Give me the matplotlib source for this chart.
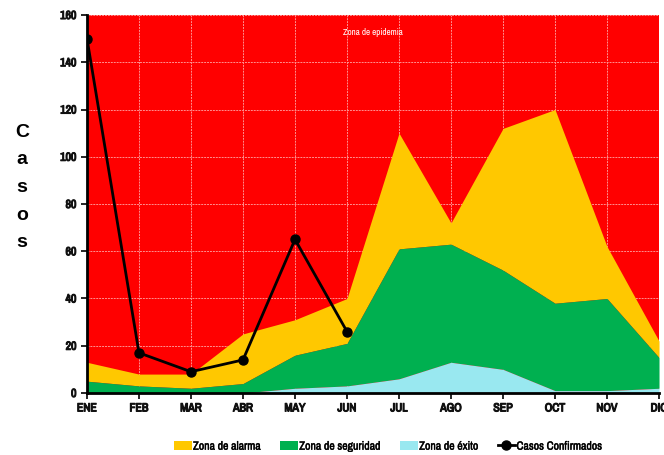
import matplotlib
matplotlib.use("Agg")
import matplotlib.pyplot as plt
import matplotlib.patheffects as pe
from matplotlib import font_manager
import numpy as np

# ------------------- DATA -------------------
meses = ["ENE", "FEB", "MAR", "ABR", "MAY", "JUN", "JUL", "AGO", "SEP", "OCT", "NOV", "DIC"]
# upper limits of each zone (cumulative)
limite_exito = [0, 0, 0, 0, 2, 3, 6, 13, 10, 1, 1, 2]
limite_seguridad = [5, 3, 2, 4, 16, 21, 61, 63, 52, 38, 40, 15]
limite_alarma = [13, 8, 8, 25, 31, 40, 110, 72, 112, 120, 62, 22]
casos_confirmados = [150, 17, 9, 14, 65, 26]

# look for a narrow face, the original uses Arial Narrow
narrow = None
for f in font_manager.fontManager.ttflist:
    if 'Narrow' in f.name or 'Condensed' in f.name:
        narrow = f.name
        break
familia = ([narrow] if narrow else []) + ['Liberation Sans', 'DejaVu Sans']
plt.rcParams['font.family'] = familia

fig = plt.figure(figsize=(6.64, 4.55), dpi=100)
ax = fig.add_axes([0.131, 0.1363, 0.8615, 0.8307])
ax.set_facecolor('#FF0000')

x = np.arange(len(meses))
ax.fill_between(x, limite_seguridad, limite_alarma, color='#FFC800', linewidth=0, label="Zona de alarma", zorder=2)
ax.fill_between(x, limite_exito, limite_seguridad, color='#00B050', linewidth=0, label="Zona de seguridad", zorder=2)
ax.fill_between(x, 0, limite_exito, color='#99E8F0', linewidth=0, label="Zona de éxito", zorder=2)
ax.plot(x[:len(casos_confirmados)], casos_confirmados, color='black', linewidth=2,
        marker='o', markersize=6.5, label="Casos Confirmados", zorder=4)

ax.set_xlim(0, len(meses) - 1)
ax.set_ylim(0, 160)
ax.set_xticks(x)
ax.set_xticklabels(meses)
ax.set_yticks(np.arange(0, 161, 20))
# narrow face has no bold, thicken it with a stroke
grueso = [pe.withStroke(linewidth=0.8, foreground='#111111')]
for lbl in ax.get_xticklabels() + ax.get_yticklabels():
    lbl.set_fontweight('bold')
    lbl.set_fontsize(8.5)
    lbl.set_color('#111111')
    lbl.set_path_effects(grueso)
ax.tick_params(axis='both', direction='out', length=4, width=1.2, color='black')

ax.grid(True, color='#FF9090', linestyle=(0, (2, 1)), linewidth=0.7, zorder=1)
ax.set_axisbelow(True)
for s in ['top', 'right']:
    ax.spines[s].set_visible(False)
for s in ['left', 'bottom']:
    ax.spines[s].set_linewidth(2)
    ax.spines[s].set_zorder(5)

ax.text(0.5, 0.955, "Zona de epidemia", transform=ax.transAxes, color='white',
        fontsize=6.5, ha='center', va='center')

fig.text(0.033, 0.588, "C\na\ns\no\ns", fontsize=14, fontweight='bold', ha='center', va='center',
         linespacing=1.82, family=['Liberation Sans', 'DejaVu Sans'])

leg = fig.legend(loc='lower center', bbox_to_anchor=(0.585, -0.016), ncol=4, frameon=False,
                 fontsize=8.5, handlelength=1.5, handleheight=0.9, handletextpad=0.1, columnspacing=1.6)
for t in leg.get_texts():
    t.set_path_effects([pe.withStroke(linewidth=0.3, foreground='black')])

fig.savefig("out.png", dpi=100)
